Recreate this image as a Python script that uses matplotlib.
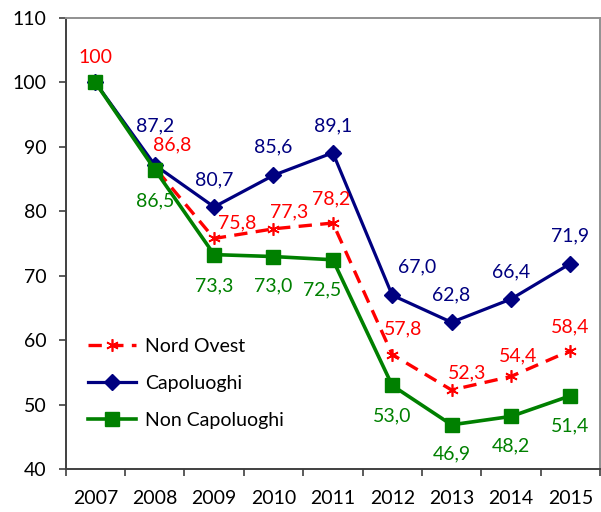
import matplotlib
matplotlib.use("Agg")
import matplotlib.pyplot as plt
import numpy as np

years = ["2007", "2008", "2009", "2010", "2011", "2012", "2013", "2014", "2015"]
nord_ovest = [100, 86.8, 75.8, 77.3, 78.2, 57.8, 52.3, 54.4, 58.4]
capoluoghi = [100, 87.2, 80.7, 85.6, 89.1, 67.0, 62.8, 66.4, 71.9]
non_capoluoghi = [100, 86.5, 73.3, 73.0, 72.5, 53.0, 46.9, 48.2, 51.4]
y_ticks = [40, 50, 60, 70, 80, 90, 100, 110]

# label offsets in pixels (dx, dy upward positive)
off_nord = [(0, 25), (17, 23), (23, 16), (16, 17), (-2, 24), (11, 26), (16, 17), (7, 21), (0, 24)]
off_cap = [None, (0, 39), (0, 27), (0, 28), (0, 27), (25, 28), (0, 27), (0, 27), (0, 28)]
off_non = [None, (0, -31), (0, -31), (0, -29), (-11, -30), (0, -30), (0, -29), (0, -29), (0, -30)]

plt.rcParams['font.family'] = ['Lato', 'DejaVu Sans']

RED = "#FF0000"
BLUE = "#000080"
GREEN = "#008000"

fig = plt.figure(figsize=(6.01, 5.12), dpi=100)
W, H = 601, 512
ax = fig.add_axes([65.7 / W, (H - 469.3) / H, (600 - 65.7) / W, (469.3 - 18) / H])

x = np.arange(len(years))

ax.plot(x, nord_ovest, color=RED, lw=2.4, ls=(0, (4, 2.5)), marker=(6, 2, 0),
        ms=9, mew=1.2, mec=RED, label="Nord Ovest", zorder=3)
ax.plot(x, capoluoghi, color=BLUE, lw=2.3, marker="D", ms=8, mec=BLUE, mfc=BLUE,
        label="Capoluoghi", zorder=4)
ax.plot(x, non_capoluoghi, color=GREEN, lw=2.6, marker="s", ms=10, mec=GREEN, mfc=GREEN,
        label="Non Capoluoghi", zorder=5)

def fmt(v):
    if v == 100:
        return "100"
    return f"{v:.1f}".replace(".", ",")

fs = 14
for series, offs, col in [(nord_ovest, off_nord, RED), (capoluoghi, off_cap, BLUE),
                          (non_capoluoghi, off_non, GREEN)]:
    for i, v in enumerate(series):
        o = offs[i]
        if o is None:
            continue
        ax.annotate(fmt(v), (x[i], v), xytext=(o[0] * 0.72, o[1] * 0.72),
                    textcoords="offset points", ha="center", va="center",
                    color=col, fontsize=fs, zorder=6)

ax.set_xlim(-0.5, len(years) - 0.5)
ax.set_ylim(40, 110)
ax.set_yticks(y_ticks)
ax.set_yticklabels([str(t) for t in y_ticks], fontsize=fs)
ax.set_xticks(x)
ax.set_xticklabels(years, fontsize=fs)
ax.set_xticks(np.arange(-0.5, len(years), 1.0), minor=True)
ax.tick_params(axis="x", which="major", length=0, pad=15)
ax.tick_params(axis="x", which="minor", length=5, width=1.2, color="#404040")
ax.tick_params(axis="y", which="major", length=5, width=1.2, color="#404040", pad=9)

for s in ["left", "bottom"]:
    ax.spines[s].set_color("#404040")
    ax.spines[s].set_linewidth(1.4)
for s in ["top", "right"]:
    ax.spines[s].set_color("#909090")
    ax.spines[s].set_linewidth(1.4)

leg = ax.legend(loc="upper left", bbox_to_anchor=(0.042, 0.292), frameon=False,
                fontsize=fs, handlelength=2.47, handletextpad=0.46, labelspacing=1.03,
                borderaxespad=0, borderpad=0)

fig.savefig("out.png", dpi=100)
